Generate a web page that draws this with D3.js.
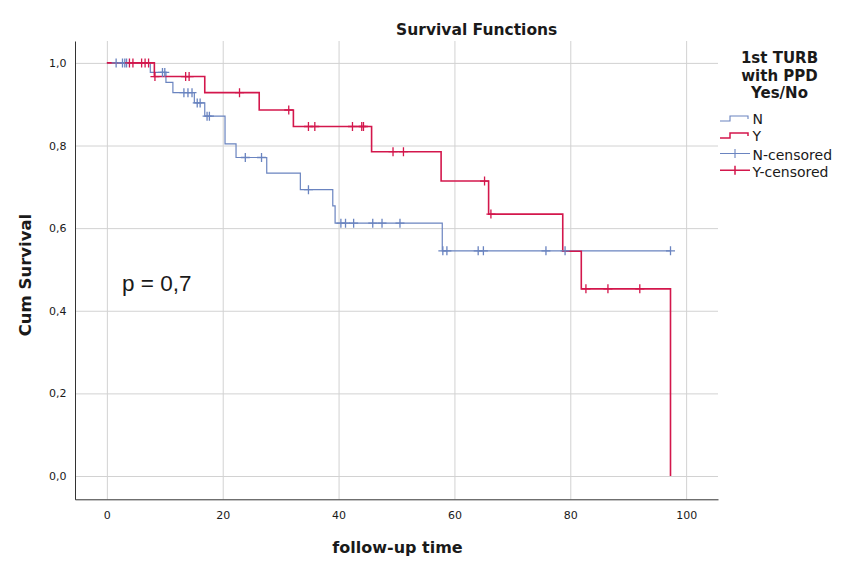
<!DOCTYPE html>
<html>
<head>
<meta charset="utf-8">
<script src="https://cdn.jsdelivr.net/npm/d3@7"></script>
<style>
  body { margin: 0; background: #fff; }
  text { font-family: "DejaVu Sans", sans-serif; fill: #1a1a1a; }
</style>
</head>
<body>
<div id="root"></div>
<script>
// step points [time, cum survival]
const nTimes = [0, 7.5, 10.2, 11.4, 15.1, 16.9, 20.4, 22.3, 27.6, 33.4, 39.0, 39.4, 57.9];
const nSurv = [1, 0.977, 0.953, 0.928, 0.903, 0.871, 0.804, 0.771, 0.733, 0.693, 0.654, 0.612, 0.545];
const nEnd = 97.3;
const nCensored = [1.6, 2.7, 3.1, 3.4, 9.6, 10.0, 13.3, 14.0, 14.7, 15.6, 16.1, 17.3, 17.7,
  23.9, 26.7, 34.8, 40.4, 41.2, 42.6, 45.9, 47.5, 50.6, 58.0, 58.7, 64.1, 65.0, 75.8, 79.1, 97.3];

const yTimes = [0, 8.2, 16.9, 26.3, 32.2, 45.7, 57.7, 65.9, 78.7, 81.9, 97.3];
const ySurv = [1, 0.967, 0.928, 0.886, 0.846, 0.785, 0.714, 0.634, 0.544, 0.453, 0];
const yEnd = 97.3;
const yCensored = [3.9, 4.5, 6.0, 6.6, 7.2, 8.3, 13.6, 14.2, 22.9, 31.4, 34.8, 35.9, 42.4,
  44.0, 44.3, 49.4, 51.2, 65.2, 66.3, 82.7, 86.5, 92.0];

const xTicks = [0, 20, 40, 60, 80, 100];
const yTicks = [0, 0.2, 0.4, 0.6, 0.8, 1.0];
const legendTitle = ["1st TURB", "with PPD", "Yes/No"];
const legendLabels = ["N", "Y", "N-censored", "Y-censored"];

class SurvivalChart {
  constructor() {
    this.width = 853;
    this.height = 579;
    this.left = 75;
    this.right = 718;
    this.top = 41;
    this.bottom = 499.3;
    this.blue = "#6a84c0";
    this.red = "#d3174c";
    this.comma = d3.formatLocale({ decimal: ",", thousands: ".", grouping: [3], currency: ["", ""] });
  }

  initialize() {
    this.x = d3.scaleLinear().domain([-5.5, 105.5]).range([this.left, this.right]);
    this.y = d3.scaleLinear().domain([-0.0564, 1.053]).range([this.bottom, this.top]);
    this.svg = d3.select("#root").append("svg")
      .attr("width", this.width)
      .attr("height", this.height);
  }

  survivalAt(times, surv, t) {
    const i = d3.bisectRight(times, t) - 1;
    return surv[Math.max(0, i)];
  }

  drawGrid() {
    const g = this.svg.append("g");
    g.append("g")
      .attr("transform", `translate(0,${this.bottom})`)
      .call(d3.axisBottom(this.x).tickValues(xTicks).tickSize(-(this.bottom - this.top)).tickFormat(""))
      .call(s => s.select(".domain").remove());
    g.append("g")
      .attr("transform", `translate(${this.left},0)`)
      .call(d3.axisLeft(this.y).tickValues(yTicks).tickSize(-(this.right - this.left)).tickFormat(""))
      .call(s => s.select(".domain").remove());
    g.selectAll(".tick line").attr("stroke", "#d2d2d2").attr("stroke-width", 1);
  }

  drawAxes() {
    const fmt = this.comma.format(".1f");
    const xa = this.svg.append("g")
      .attr("transform", `translate(0,${this.bottom})`)
      .call(d3.axisBottom(this.x).tickValues(xTicks).tickSize(0).tickSizeOuter(0).tickPadding(12));
    const ya = this.svg.append("g")
      .attr("transform", `translate(${this.left},0)`)
      .call(d3.axisLeft(this.y).tickValues(yTicks).tickSize(0).tickSizeOuter(0).tickPadding(8.5).tickFormat(fmt));
    [xa, ya].forEach(a => {
      a.select(".domain").attr("stroke", "#333");
      a.selectAll("text").attr("font-family", "DejaVu Sans").attr("font-size", 11).attr("fill", "#222");
    });
  }

  drawCurve(times, surv, end, color, width) {
    const pts = times.map((t, i) => [t, surv[i]]);
    pts.push([end, surv[surv.length - 1]]);
    const line = d3.line()
      .x(d => this.x(d[0]))
      .y(d => this.y(d[1]))
      .curve(d3.curveStepAfter);
    this.svg.append("path")
      .datum(pts)
      .attr("fill", "none")
      .attr("stroke", color)
      .attr("stroke-width", width)
      .attr("d", line);
  }

  drawCensored(times, surv, cens, color) {
    const r = 4.5;
    this.svg.append("g")
      .selectAll("path")
      .data(cens)
      .enter()
      .append("path")
      .attr("fill", "none")
      .attr("stroke", color)
      .attr("stroke-width", 1.3)
      .attr("d", t => {
        const cx = this.x(t);
        const cy = this.y(this.survivalAt(times, surv, t));
        return `M${cx - r},${cy}H${cx + r}M${cx},${cy - r}V${cy + r}`;
      });
  }

  drawTexts() {
    this.svg.append("text")
      .attr("x", 476.7).attr("y", 35)
      .attr("text-anchor", "middle")
      .attr("font-weight", "bold").attr("font-size", 15.5)
      .text("Survival Functions");
    this.svg.append("text")
      .attr("transform", "translate(30.5,275) rotate(-90)")
      .attr("text-anchor", "middle")
      .attr("font-weight", "bold").attr("font-size", 16.5)
      .text("Cum Survival");
    this.svg.append("text")
      .attr("x", 397.5).attr("y", 553)
      .attr("text-anchor", "middle")
      .attr("font-weight", "bold").attr("font-size", 16)
      .text("follow-up time");
    this.svg.append("text")
      .attr("x", 122).attr("y", 291)
      .attr("font-family", "Liberation Sans, Arial, sans-serif")
      .style("font-family", "'Liberation Sans', Arial, sans-serif")
      .attr("font-size", 22.5)
      .text("p = 0,7");
  }

  drawLegend() {
    const lg = this.svg.append("g");
    lg.selectAll("text.title")
      .data(legendTitle)
      .enter()
      .append("text")
      .attr("class", "title")
      .attr("x", 779.5)
      .attr("y", (d, i) => 63 + i * 17.7)
      .attr("text-anchor", "middle")
      .attr("font-weight", "bold")
      .attr("font-size", 15)
      .text(d => d);

    const baselines = [124, 141, 160, 176.7];
    const colors = [this.blue, this.red, this.blue, this.red];
    lg.selectAll("text.item")
      .data(legendLabels)
      .enter()
      .append("text")
      .attr("class", "item")
      .attr("x", 752.5)
      .attr("y", (d, i) => baselines[i])
      .attr("font-size", 14)
      .text(d => d);

    lg.selectAll("path")
      .data(legendLabels)
      .enter()
      .append("path")
      .attr("fill", "none")
      .attr("stroke", (d, i) => colors[i])
      .attr("stroke-width", (d, i) => (i % 2 ? 1.5 : 1.1))
      .attr("d", (d, i) => {
        const b = baselines[i];
        if (i < 2) {
          const lo = b - 3, hi = b - 8;
          return `M720,${lo}H730V${hi}H748V${b - 5}`;
        }
        const m = b - 6.5;
        return `M720,${m}H750M735,${m - 4.5}V${m + 4.5}`;
      });
  }

  draw() {
    this.initialize();
    this.drawGrid();
    this.drawCurve(nTimes, nSurv, nEnd, this.blue, 1.2);
    this.drawCurve(yTimes, ySurv, yEnd, this.red, 1.6);
    this.drawCensored(nTimes, nSurv, nCensored, this.blue);
    this.drawCensored(yTimes, ySurv, yCensored, this.red);
    this.drawAxes();
    this.drawTexts();
    this.drawLegend();
  }
}

const chart = new SurvivalChart();
chart.draw();
</script>
</body>
</html>
